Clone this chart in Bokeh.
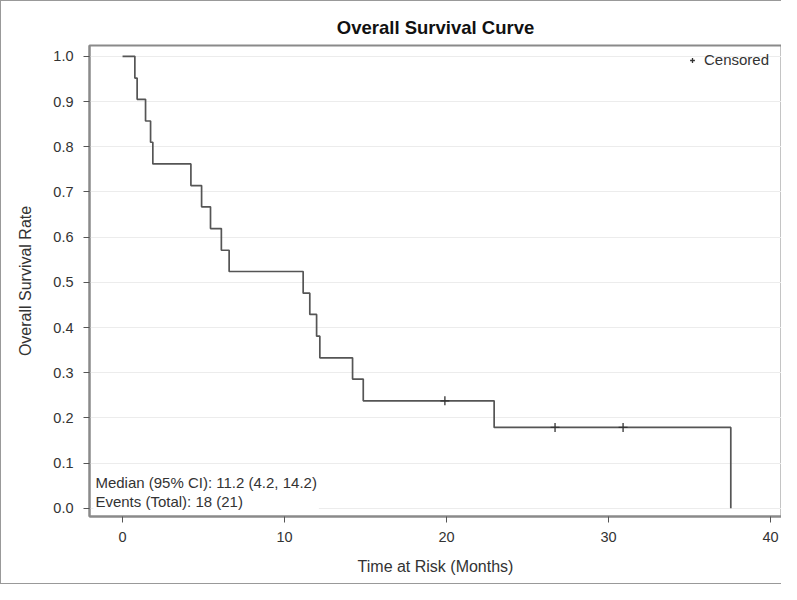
from bokeh.plotting import figure
from bokeh.models import Range1d, FixedTicker, PrintfTickFormatter, Label, Legend, LegendItem
from bokeh.embed import file_html
from bokeh.resources import INLINE

# Kaplan-Meier step values
time_points = [0, 0.76, 0.90, 1.42, 1.73, 1.87, 4.22, 4.88, 5.43, 6.10, 6.58,
               11.15, 11.56, 11.98, 12.18, 14.20, 14.86, 22.94, 37.55]
survival = [1.0, 0.952, 0.905, 0.857, 0.810, 0.762, 0.714, 0.667, 0.619, 0.571, 0.524,
            0.476, 0.429, 0.381, 0.333, 0.286, 0.238, 0.179, 0.0]
censor_times = [19.9, 26.7, 30.9]
censor_surv = [0.238, 0.179, 0.179]
x_ticks = [0, 10, 20, 30, 40]
y_ticks = [0.0, 0.1, 0.2, 0.3, 0.4, 0.5, 0.6, 0.7, 0.8, 0.9, 1.0]
title_text = "Overall Survival Curve"
x_label = "Time at Risk (Months)"
y_label = "Overall Survival Rate"
stats_text = "Median (95% CI): 11.2 (4.2, 14.2)\nEvents (Total): 18 (21)"

FONT = "Liberation Sans"

p = figure(width=781, height=584, output_backend="svg", toolbar_location=None,
           x_range=Range1d(-2.04, 40.68), y_range=Range1d(-0.018, 1.024),
           min_border_left=88, min_border_right=1, min_border_top=44, min_border_bottom=69)

p.title.text = title_text
p.title.align = "center"
p.title.text_font = FONT
p.title.text_font_size = "18.5px"
p.title.text_font_style = "bold"
p.title.text_color = "#111111"
p.title.offset = 0
p.title.standoff = 15

p.outline_line_color = "#8a8a8a"
p.outline_line_width = 2
p.background_fill_color = "white"
p.border_fill_color = "white"
p.styles = {"border-left": "1px solid #999999", "border-top": "1px solid #999999",
            "border-bottom": "1px solid #999999"}

p.xgrid.visible = False
p.ygrid.grid_line_color = "#ececec"
p.ygrid.grid_line_width = 1
p.ygrid.ticker = FixedTicker(ticks=y_ticks)

for ax in (p.xaxis[0], p.yaxis[0]):
    ax.axis_line_color = "#8a8a8a"
    ax.axis_line_width = 2
    ax.major_tick_line_color = "#555555"
    ax.major_tick_line_width = 1
    ax.major_tick_out = 6
    ax.major_tick_in = 0
    ax.minor_tick_line_color = None
    ax.major_label_text_font = FONT
    ax.major_label_text_font_size = "14.5px"
    ax.major_label_text_color = "#333333"
    ax.axis_label_text_font = FONT
    ax.axis_label_text_font_size = "16px"
    ax.axis_label_text_font_style = "normal"
    ax.axis_label_text_color = "#333333"

p.xaxis.ticker = FixedTicker(ticks=x_ticks)
p.yaxis.ticker = FixedTicker(ticks=y_ticks)
p.yaxis.formatter = PrintfTickFormatter(format="%.1f")
p.xaxis.axis_label = x_label
p.yaxis.axis_label = y_label
p.xaxis.major_label_standoff = 9
p.yaxis.major_label_standoff = 10
p.xaxis.axis_label_standoff = 13
p.yaxis.axis_label_standoff = 16

p.step(time_points, survival, mode="after", line_color="#555555", line_width=1.7)
cens = p.scatter(censor_times, censor_surv, marker="cross", size=9,
                 line_color="#333333", line_width=1.3)

legend = Legend(items=[LegendItem(label="Censored", renderers=[cens])],
                location=(597, 448), border_line_color=None,
                background_fill_alpha=0, label_text_font=FONT,
                label_text_font_size="15px", label_text_color="#333333",
                glyph_width=12, glyph_height=12, label_height=12,
                margin=0, padding=0, spacing=2, label_standoff=6)
p.add_layout(legend)

lab = Label(x=-1.80, y=-0.009, text=stats_text, text_font=FONT,
            text_font_size="15px", text_color="#333333",
            text_baseline="bottom", text_line_height=1.13,
            background_fill_color="white", padding=2)
p.add_layout(lab)

open("out.html", "w").write(file_html(p, INLINE))
